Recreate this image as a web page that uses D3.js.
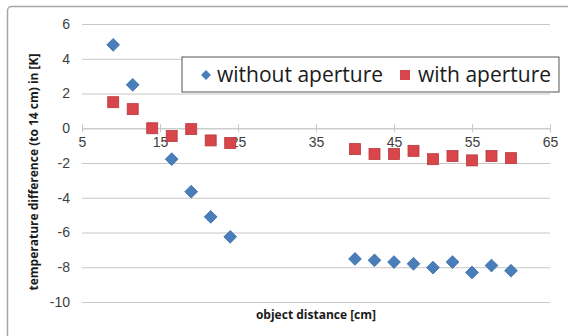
<!DOCTYPE html>
<html>
<head>
<meta charset="utf-8">
<script src="https://cdn.jsdelivr.net/npm/d3@7"></script>
<style>
  body { margin: 0; background: #fff; }
  svg { display: block; font-family: "Open Sans", "Noto Sans", sans-serif; }
  .grid line { stroke: #c8c8c8; }
  .grid path { display: none; }
  .axis text { fill: #404040; font-size: 14px; }
</style>
</head>
<body>
<div id="chart"></div>
<script>
// distances (cm) and temperature differences (K)
const distNoAperture = [9, 11.5, 16.5, 19, 21.5, 24, 40, 42.5, 45, 47.5, 50, 52.5, 55, 57.5, 60];
const tempNoAperture = [4.8, 2.5, -1.78, -3.65, -5.1, -6.25, -7.52, -7.6, -7.7, -7.8, -8.02, -7.7, -8.3, -7.9, -8.2];

const distAperture = [9, 11.5, 14, 16.5, 19, 21.5, 24, 40, 42.5, 45, 47.5, 50, 52.5, 55, 57.5, 60];
const tempAperture = [1.5, 1.1, 0, -0.45, -0.05, -0.7, -0.85, -1.2, -1.48, -1.48, -1.3, -1.78, -1.6, -1.85, -1.6, -1.72];

const xTicks = [5, 15, 25, 35, 45, 55, 65];
const yTicks = [-10, -8, -6, -4, -2, 0, 2, 4, 6];

const seriesNames = ["without aperture", "with aperture"];

const W = 568, H = 336;
const margin = { top: 24, right: 18, bottom: 34, left: 82 };
const width = W - margin.left - margin.right;
const height = H - margin.top - margin.bottom;

const root = d3.select("#chart").append("svg")
    .attr("width", W)
    .attr("height", H);

// outer chart border (runs off the right and bottom)
root.append("rect")
    .attr("x", 7.5).attr("y", 6.5)
    .attr("width", 570).attr("height", 340)
    .attr("rx", 4)
    .attr("fill", "none")
    .attr("stroke", "#a6a6a6")
    .attr("stroke-width", 1.5);

const svg = root.append("g")
    .attr("transform", `translate(${margin.left}, ${margin.top})`);

const x = d3.scaleLinear().domain([5, 65]).range([0, width]);
const y = d3.scaleLinear().domain([-10, 6]).range([height, 0]);

svg.append("g")
    .attr("class", "grid")
    .call(d3.axisLeft(y).tickValues(yTicks).tickSize(-width).tickFormat(""));

// y axis labels
const yAxis = svg.append("g")
    .attr("class", "axis")
    .call(d3.axisLeft(y).tickValues(yTicks).tickSize(0).tickPadding(12).tickFormat(d => d));
yAxis.select(".domain").remove();

// x axis sits on y = 0
const xAxis = svg.append("g")
    .attr("class", "axis")
    .attr("transform", `translate(0, ${y(0)})`)
    .call(d3.axisBottom(x).tickValues(xTicks).tickSize(0).tickPadding(9));
xAxis.select(".domain").attr("stroke", "#c8c8c8");
xAxis.selectAll(".tick").append("line")
    .attr("y1", -4).attr("y2", 4)
    .attr("stroke", "#c8c8c8");

// series: blue diamonds (square turned 45deg, like Excel's marker)
const dm = 9;
svg.append("g").selectAll("rect")
    .data(distNoAperture.map((d, i) => [d, tempNoAperture[i]]))
    .join("rect")
    .attr("x", -dm / 2).attr("y", -dm / 2)
    .attr("width", dm).attr("height", dm)
    .attr("transform", d => `translate(${x(d[0])}, ${y(d[1])}) rotate(45)`)
    .attr("fill", "#4a7ebb")
    .attr("stroke", "#3a6ba8")
    .attr("stroke-width", 0.8);

// series: red squares
const sq = 11;
svg.append("g").selectAll("rect")
    .data(distAperture.map((d, i) => [d, tempAperture[i]]))
    .join("rect")
    .attr("x", d => x(d[0]) - sq / 2)
    .attr("y", d => y(d[1]) - sq / 2)
    .attr("width", sq).attr("height", sq)
    .attr("fill", "#d8454a")
    .attr("stroke", "#b83a3e")
    .attr("stroke-width", 0.8);

// axis titles
svg.append("text")
    .attr("x", 316 - margin.left)
    .attr("y", 319 - margin.top)
    .attr("text-anchor", "middle")
    .style("font-size", "12px")
    .style("font-weight", "700")
    .attr("fill", "#1a1a1a")
    .text("object distance [cm]");

svg.append("text")
    .attr("transform", `translate(${38 - margin.left}, ${172 - margin.top}) rotate(-90)`)
    .attr("text-anchor", "middle")
    .style("font-size", "12px")
    .style("font-weight", "700")
    .attr("fill", "#1a1a1a")
    .text("temperature difference (to 14 cm) in [K]");

// legend
const legend = root.append("g").attr("transform", "translate(182, 57)");
legend.append("rect")
    .attr("width", 377).attr("height", 35)
    .attr("fill", "#fff")
    .attr("stroke", "#555")
    .attr("stroke-width", 1);

const lg1 = legend.append("g").attr("transform", "translate(24, 18)");
lg1.append("rect")
    .attr("x", -3.5).attr("y", -3.5).attr("width", 7).attr("height", 7)
    .attr("transform", "rotate(45)")
    .attr("fill", "#4a7ebb");
lg1.append("text")
    .attr("x", 11).attr("y", 7)
    .style("font-size", "21px")
    .attr("fill", "#1a1a1a")
    .text(seriesNames[0]);

const lg2 = legend.append("g").attr("transform", "translate(223, 18)");
lg2.append("rect")
    .attr("x", -5).attr("y", -5).attr("width", 10).attr("height", 10)
    .attr("fill", "#d8454a");
lg2.append("text")
    .attr("x", 13).attr("y", 7)
    .style("font-size", "21px")
    .attr("fill", "#1a1a1a")
    .text(seriesNames[1]);
</script>
</body>
</html>
